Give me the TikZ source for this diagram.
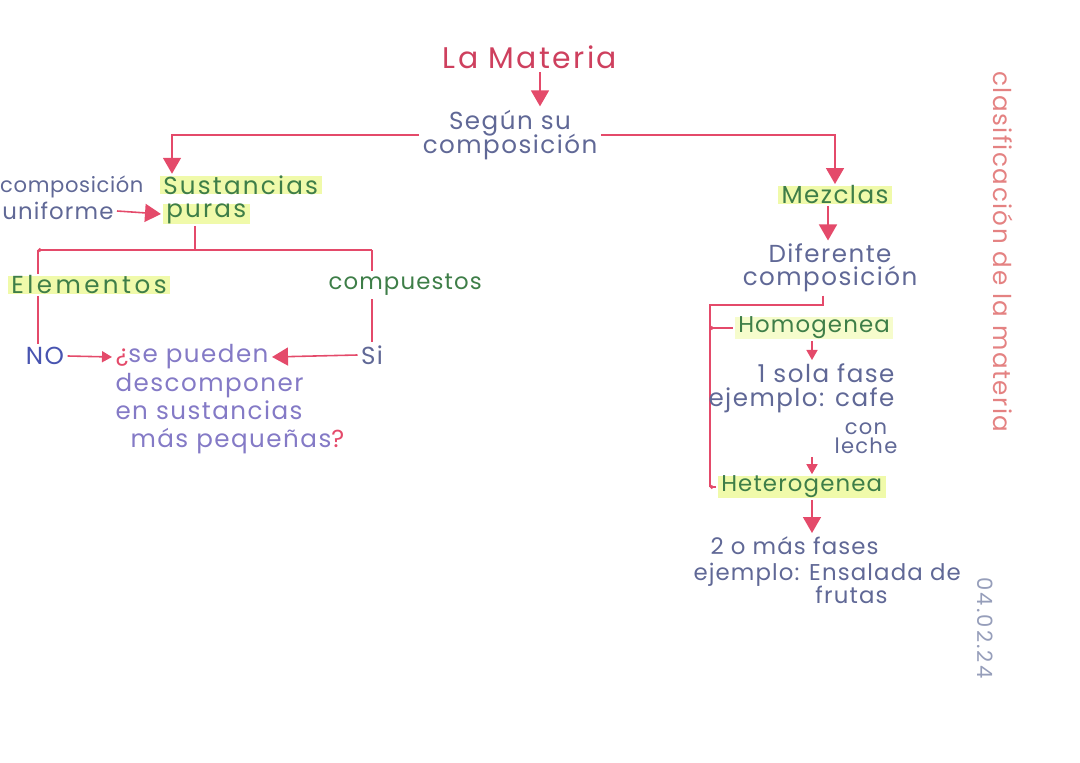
\documentclass[tikz,border=0pt]{standalone}
\usepackage{fontspec}
\setmainfont{Poppins}
\usetikzlibrary{arrows.meta,positioning}

\definecolor{penred}{RGB}{228,74,106}
\definecolor{titlered}{RGB}{206,64,94}
\definecolor{inkblue}{RGB}{96,104,150}
\definecolor{inknavy}{RGB}{72,84,176}
\definecolor{inklilac}{RGB}{132,122,198}
\definecolor{inkgreen}{RGB}{62,126,72}
\definecolor{marker}{RGB}{240,250,170}
\definecolor{inkpink}{RGB}{228,130,130}
\definecolor{inkgray}{RGB}{150,158,186}

\begin{document}
\begin{tikzpicture}[x=0.02cm, y=-0.02cm,
    hand/.style={inner sep=1pt, outer sep=1pt,
        font=\fontsize{14}{15}\selectfont\addfontfeature{LetterSpace=6}},
    small/.style={font=\fontsize{13}{15}\selectfont\addfontfeature{LetterSpace=5}},
    title/.style={hand, text=titlered,
        font=\fontsize{17}{18}\selectfont\addfontfeature{LetterSpace=8}},
    note/.style={hand, text=inkblue},
    ask/.style={hand, text=inklilac},
    term/.style={hand, text=inkgreen},
    hl/.style={term, fill=marker, inner xsep=2pt, inner ysep=0pt},
    side/.style={hand, rotate=-90},
    link/.style={draw=penred, line width=0.9pt},
    arrow/.style={link, -{Triangle[length=3.2mm, width=3.6mm]}},
    smallarrow/.style={link, -{Triangle[length=2mm, width=2.2mm]}},
    tick/.style={link, {Circle[length=2pt]}-}
]
    \useasboundingbox (0,0) rectangle (1080,763);

    % top
    \node[title] (title) at (530,57) {La Materia};
    \node[note, align=center] (segun) at (510,135) {Según su\\[-1pt]composición};
    \draw[arrow] ([xshift=0.2cm]title.south) -- ([xshift=0.6cm]segun.north);

    % left branch
    \node[hl, anchor=west, font=\fontsize{14}{15}\selectfont\addfontfeature{LetterSpace=9}]
        (sust) at (158,185) {Sustancias};
    \node[hl, anchor=west, font=\fontsize{14}{15}\selectfont\addfontfeature{LetterSpace=9}]
        (puras) at (161,214) {puras};
    \node[note, anchor=east, font=\fontsize{12}{14}\selectfont\addfontfeature{LetterSpace=3}]
        (compu) at (147,187) {composición};
    \node[note, small, anchor=east] (unif) at (117,211) {uniforme};
    \draw[arrow] (segun.west) -| ([xshift=0.28cm]sust.north west);
    \draw[arrow] (unif.east) -- (puras.west);

    \coordinate (pjoin) at (195,250);
    \coordinate (bl) at (38,250);
    \coordinate (br) at (372,250);
    \node[hl, anchor=west, font=\fontsize{14}{15}\selectfont\addfontfeature{LetterSpace=14}]
        (elem) at (6,285) {Elementos};
    \node[term, small, anchor=west] (comp) at (325,285) {compuestos};
    \draw[link] (puras.south -| pjoin) -- (pjoin);
    \draw[tick] (bl) -- (br);
    \draw[link] (bl) -- (bl |- elem.north);
    \draw[link] (br) -- (br |- comp.north);

    \node[note, text=inknavy] (no) at (45,356) {NO};
    \node[note] (si) at (372,355) {Si};
    \node[ask, anchor=west] (q1) at (112,357) {\textcolor{penred}{¿}se pueden};
    \node[ask, anchor=north west, align=left] (q2) at (112,370)
        {descomponer\\[1pt]en sustancias\\[1pt]\hspace*{0.3cm}más pequeñas\textcolor{penred}{?}};
    \draw[link] (bl |- elem.south) -- (bl |- no.north);
    \draw[link] (br |- comp.south) -- (br |- si.north);
    \draw[smallarrow] (no.east) -- (q1.west);
    \draw[arrow] (si.west) -- (q1.east);

    % right branch
    \node[hl] (mezc) at (835,195) {Mezclas};
    \node[note, align=center] (dif) at (830,268) {Diferente\\[-2pt]composición};
    \draw[arrow] (segun.east) -| (mezc.north);
    \draw[arrow] ([xshift=-0.14cm]mezc.south) -- ([xshift=-0.14cm]mezc.south |- dif.north);

    \coordinate (mjoin) at (823,305);
    \coordinate (mleft) at (710,305);
    \coordinate (mcol) at (812,0);
    \node[hl, small, fill=marker!60, anchor=west] (homo) at (733,328) {Homogenea};
    \node[hl, small, anchor=west] (hetero) at (716,487) {Heterogenea};
    \draw[link] (dif.south -| mjoin) -- (mjoin) -- (mleft) -- (mleft |- hetero.west);
    \draw[tick] (mleft |- homo.west) -- (homo.west);
    \draw[tick] (mleft |- hetero.west) -- (hetero.west);

    \node[note, anchor=north east, align=right] (fase) at (898,360)
        {1 sola fase\\[-1pt]ejemplo: cafe};
    \node[note, align=center, font=\fontsize{12}{11}\selectfont\addfontfeature{LetterSpace=6}]
        (leche) at (866,438) {con\\leche};
    \draw[smallarrow] (homo.south -| mcol) -- (mcol |- fase.north);
    \draw[smallarrow] (leche.south -| mcol) -- (mcol |- hetero.north);

    \node[note, small, anchor=north west, align=left] (fases) at (690,533)
        {\hspace*{0.34cm}2 o más fases\\[0pt]ejemplo: Ensalada de\\[-2pt]\hspace*{2.44cm}frutas};
    \draw[arrow] (hetero.south -| mcol) -- (mcol |- fases.north);

    % margin
    \node[side, text=inkpink] (side) at (1003,252) {clasificación de la materia};
    \node[side, text=inkgray, font=\fontsize{12}{13}\selectfont\addfontfeature{LetterSpace=10}]
        (date) at (985,628) {04.02.24};
\end{tikzpicture}
\end{document}
